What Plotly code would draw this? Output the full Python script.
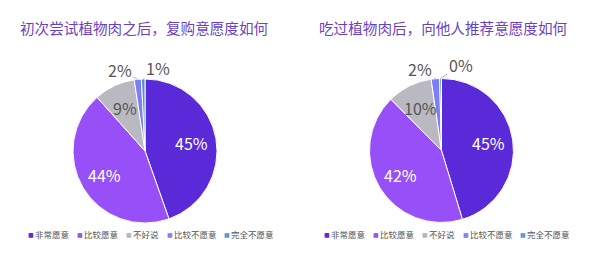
import math
import plotly.graph_objects as go

categories = ["非常愿意", "比较愿意", "不好说", "比较不愿意", "完全不愿意"]
repurchase = [44.6, 43.8, 9.2, 1.6, 0.8]
recommend = [45.3, 42.3, 10.1, 1.9, 0.4]
titles = ["初次尝试植物肉之后，复购意愿度如何", "吃过植物肉后，向他人推荐意愿度如何"]

colors = ["#5a2ad8", "#9750f8", "#b9bac1", "#7d7ef5", "#4b90d9"]
legend_colors = ["#5a2ad8", "#9b52f5", "#b8b8b8", "#8a80f5", "#5a9ad8"]
text_colors = ["#ffffff", "#ffffff", "#555555", "#555555", "#555555"]
FONT = "Noto Sans CJK SC"
W, H = 600, 259

domains = [
    dict(x=[0.1217, 0.3617], y=[0.139, 0.695]),
    dict(x=[0.6158, 0.8558], y=[0.141, 0.697]),
]
series = [repurchase, recommend]
small_offsets = [[(-18, -9), (15, -11)], [(-15, -10), (20, -13)]]
title_x = [18, 317]
legend_x = [27, 323]
LEG_FS = 8.5

fig = go.Figure()
annotations = []
for i, (vals, dom) in enumerate(zip(series, domains)):
    fig.add_trace(go.Pie(
        labels=categories, values=vals, domain=dom, sort=False,
        direction="clockwise", rotation=0,
        marker=dict(colors=colors, line=dict(color="white", width=1)),
        textinfo="none", showlegend=False, hoverinfo="label+percent",
    ))
    cx = (dom["x"][0] + dom["x"][1]) / 2
    cy = (dom["y"][0] + dom["y"][1]) / 2
    r_px = min((dom["x"][1] - dom["x"][0]) * W, (dom["y"][1] - dom["y"][0]) * H) / 2
    total = sum(vals)
    cum = 0
    k = 0
    for j, v in enumerate(vals):
        mid = (cum + v / 2) / total * 2 * math.pi
        cum += v
        label = f"{round(v)}%"
        if v >= 5:
            rr = 0.66 * r_px
            annotations.append(dict(
                x=cx + rr * math.sin(mid) / W, y=cy + rr * math.cos(mid) / H,
                xref="paper", yref="paper", text=label, showarrow=False,
                xanchor="center", yanchor="middle",
                font=dict(family=FONT, size=16, color=text_colors[j]),
            ))
            continue
        px = cx + r_px * math.sin(mid) / W
        py = cy + r_px * math.cos(mid) / H
        ax, ay = small_offsets[i][k]
        k += 1
        annotations.append(dict(
            x=px, y=py, xref="paper", yref="paper", text=label,
            showarrow=True, arrowhead=0, arrowwidth=0.8, arrowcolor="#9a9a9a",
            ax=ax, ay=ay, standoff=0,
            font=dict(family=FONT, size=16, color="#555555"),
        ))
    # title
    annotations.append(dict(
        x=title_x[i] / W, y=(H - 27.5) / H, xref="paper", yref="paper",
        xanchor="left", yanchor="middle", showarrow=False, text=titles[i],
        font=dict(family=FONT, size=14.6, color="#6a3fc8"),
    ))
    # legend
    lx = legend_x[i]
    ly = (H - 234) / H
    for c, n in zip(legend_colors, categories):
        annotations.append(dict(
            x=(lx - 1) / W, y=ly, xref="paper", yref="paper", xanchor="left", yanchor="middle",
            showarrow=False, text="■", font=dict(family="DejaVu Sans", size=6, color=c),
        ))
        annotations.append(dict(
            x=(lx + 6) / W, y=ly, xref="paper", yref="paper", xanchor="left", yanchor="middle",
            showarrow=False, text=n, font=dict(family=FONT, size=LEG_FS, color="#555555"),
        ))
        lx += len(n) * LEG_FS + 15

fig.update_layout(
    width=W, height=H, margin=dict(l=0, r=0, t=0, b=0),
    paper_bgcolor="white", plot_bgcolor="white",
    annotations=annotations, font=dict(family=FONT),
)
fig.write_html("out.html")
